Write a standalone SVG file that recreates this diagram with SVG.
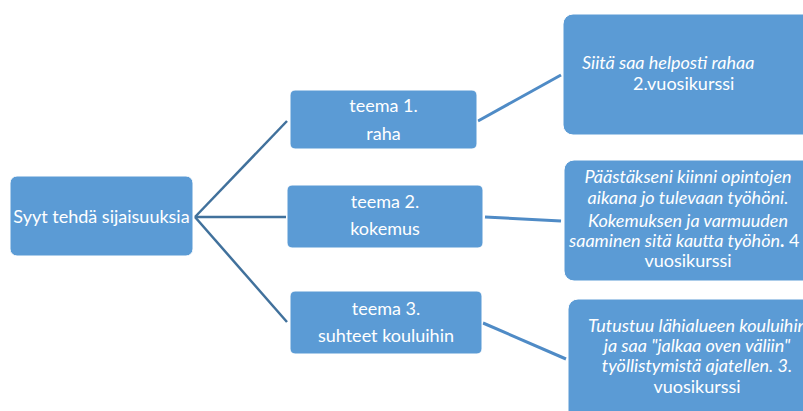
<svg xmlns="http://www.w3.org/2000/svg" width="803" height="411" viewBox="0 0 803 411">
<style>
.box{fill:#5B9BD5;stroke:#ffffff;stroke-width:1}
.t{font-family:Lato,"Liberation Sans",sans-serif;font-size:18px;fill:#ffffff}
.c{text-anchor:middle}
.i{font-style:italic}
.l1{stroke:#41719C;stroke-width:2.5;fill:none}
.l2{stroke:#4F8BC6;stroke-width:3;fill:none}
</style>
<rect width="803" height="411" fill="#ffffff"/>
<g id="connectors">
<line class="l1" x1="195" y1="217" x2="287" y2="121"/>
<line class="l1" x1="195" y1="217" x2="286" y2="217"/>
<line class="l1" x1="195" y1="217" x2="287" y2="322"/>
<line class="l2" x1="478" y1="121" x2="561" y2="75"/>
<line class="l2" x1="485" y1="217" x2="561" y2="221"/>
<line class="l2" x1="483" y1="323" x2="566" y2="359"/>
</g>
<g id="root">
<rect class="box" x="10" y="176" width="183" height="80" rx="7"/>
<text class="t c" x="101.5" y="223">Syyt tehdä sijaisuuksia</text>
</g>
<g id="teema1">
<rect class="box" x="290" y="90" width="187" height="59" rx="5"/>
<text class="t c" x="383.5" y="112">teema 1.</text>
<text class="t c" x="383.5" y="140">raha</text>
</g>
<g id="teema2">
<rect class="box" x="287" y="185" width="196" height="63" rx="5"/>
<text class="t c" x="385" y="208">teema 2.</text>
<text class="t c" x="385" y="235">kokemus</text>
</g>
<g id="teema3">
<rect class="box" x="290" y="291" width="192" height="63" rx="5"/>
<text class="t c" x="386" y="315">teema 3.</text>
<text class="t c" x="386" y="342">suhteet kouluihin</text>
</g>
<g id="selitys1">
<rect class="box" x="563" y="14" width="260" height="121" rx="10"/>
<text class="t i" x="582" y="69">Siitä saa helposti rahaa</text>
<text class="t" x="633" y="90">2.vuosikurssi</text>
</g>
<g id="selitys2">
<rect class="box" x="564" y="160" width="260" height="121" rx="10"/>
<text class="t c i" x="688" y="183">Päästäkseni kiinni opintojen</text>
<text class="t c i" x="688" y="204">aikana jo tulevaan työhöni.</text>
<text class="t c i" x="688" y="227">Kokemuksen ja varmuuden</text>
<text class="t i" x="569" y="247">saaminen sitä kautta työhön<tspan font-weight="bold" font-style="normal">.</tspan><tspan font-style="normal"> 4</tspan></text>
<text class="t c" x="688" y="267">vuosikurssi</text>
</g>
<g id="selitys3">
<rect class="box" x="568" y="299" width="260" height="130" rx="10"/>
<text class="t i" x="588" y="332">Tutustuu lähialueen kouluihin</text>
<text class="t c i" x="697" y="352">ja saa "jalkaa oven väliin"</text>
<text class="t c i" x="697" y="372">työllistymistä ajatellen. 3.</text>
<text class="t c" x="697" y="393">vuosikurssi</text>
</g>
</svg>
